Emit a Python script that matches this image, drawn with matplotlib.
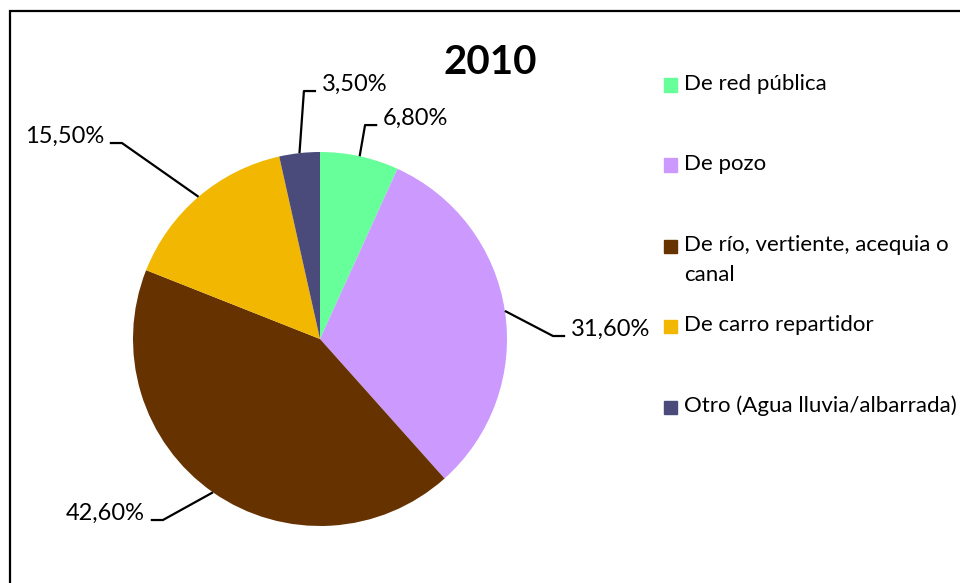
import matplotlib
matplotlib.use("Agg")
import matplotlib.pyplot as plt
from matplotlib.patches import Rectangle
import numpy as np

plt.rcParams['font.family'] = ['Lato', 'DejaVu Sans']

# datos
categorias = ['De red pública', 'De pozo', 'De río, vertiente, acequia o\ncanal',
              'De carro repartidor', 'Otro (Agua lluvia/albarrada)']
valores = [6.8, 31.6, 42.6, 15.5, 3.5]
colores = ['#66FF99', '#CC99FF', '#663300', '#F2B700', '#4B4B7B']
titulo = '2010'

# posicion del codo de cada linea guia (radio = 1) y lado del texto
codos = [(0.241, 1.144), (1.246, 0.016), (-0.840, -0.968), (-1.059, 1.048), (-0.086, 1.326)]
lados = [1, 1, -1, -1, 1]

W, H = 960, 583
cx, cy, r = 320, 339, 187
fig = plt.figure(figsize=(W / 100, H / 100), dpi=100)
ax = fig.add_axes([0, 0, 1, 1])

wedges, _ = ax.pie(valores, colors=colores, startangle=90, counterclock=False,
                   radius=1, center=(0, 0), frame=True)
ax.set_xlim(-cx / r, (W - cx) / r)
ax.set_ylim(-(H - cy) / r, cy / r)
ax.set_aspect('equal')
ax.axis('off')

for w, v, (ex, ey), lado in zip(wedges, valores, codos, lados):
    ang = np.deg2rad((w.theta1 + w.theta2) / 2)
    x0, y0 = np.cos(ang), np.sin(ang)
    x2 = ex + lado * 0.065
    ax.plot([x0, ex, x2], [y0, ey, ey], color='black', lw=1.6, solid_capstyle='butt')
    ax.text(x2 + lado * 0.03, ey + 0.035, f"{v:.2f}%".replace('.', ','),
            ha='left' if lado > 0 else 'right', va='center', fontsize=17)

fig.text(490 / W, 1 - 62 / H, titulo, ha='center', va='center', fontsize=29, weight='bold')

# leyenda
ys = [85, 165, 246, 326, 407]
for cat, col, y in zip(categorias, colores, ys):
    fig.add_artist(Rectangle((664 / W, 1 - (y + 6.5) / H), 13 / W, 13 / H,
                             transform=fig.transFigure, color=col))
    for k, linea in enumerate(cat.split('\n')):
        fig.text(684 / W, 1 - (y - 1 + 30 * k) / H, linea, ha='left', va='center', fontsize=16)

# marco
fig.add_artist(Rectangle((9.5 / W, -0.05), 1.1, 1 - 10.5 / H + 0.05, transform=fig.transFigure,
                         fill=False, edgecolor='black', lw=1.6))

plt.savefig('out.png', dpi=100)
